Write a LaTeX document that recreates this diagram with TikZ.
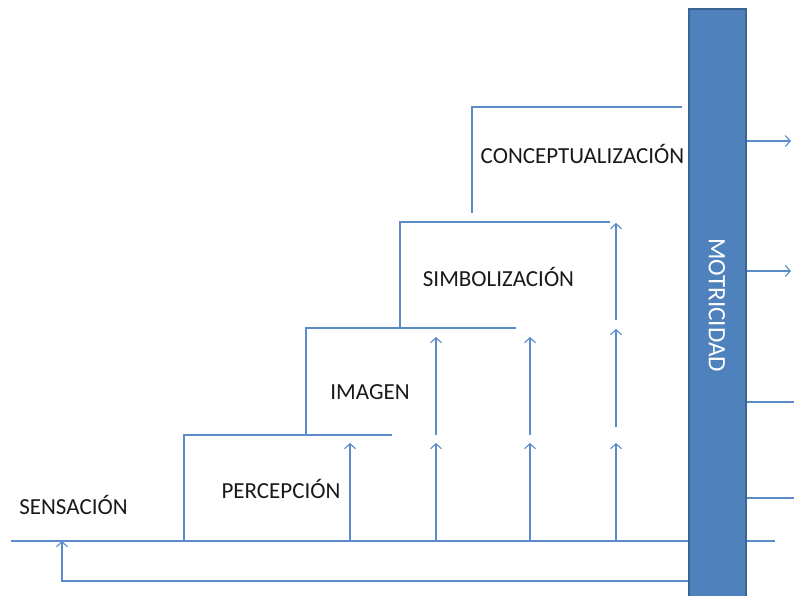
\documentclass[tikz,border=0pt]{standalone}
\usepackage{fontspec}
\setmainfont{Carlito}
\usetikzlibrary{arrows.meta,backgrounds}
\definecolor{lineblue}{HTML}{5B8BC8}
\definecolor{barblue}{HTML}{4F81BD}
\definecolor{bardark}{HTML}{3A6494}
\tikzset{
  flow/.style={draw=lineblue, line width=1.1pt},
  up/.style={flow, -{Straight Barb[length=5pt,width=11pt,line width=1.1pt]}},
  lbl/.style={font=\fontsize{23}{26}\selectfont, text=black!90, inner sep=0pt, anchor=base},
  barbox/.style={draw=bardark, fill=barblue, line width=2pt, text=white,
    font=\fontsize{25}{28}\selectfont, inner sep=0pt, outer sep=0pt,
    minimum width=592pt, minimum height=57pt}
}
\begin{document}
\begin{tikzpicture}[x=1pt, y=-1pt]
  \useasboundingbox (0,0) rectangle (794,596);
  \clip (0,0) rectangle (794,596);

  % vertical motricity bar (drawn on top of the lines passing behind it)
  \node[barbox, rotate=-90] (mot) at (717,305) {MOTRICIDAD};

  \begin{pgfonlayer}{background}
  % outgoing lines on the right of the bar
  \coordinate (o1) at (791,141);
  \coordinate (o2) at (791,271);
  \coordinate (o3) at (794,402);
  \coordinate (o4) at (794,498);
  \draw[up] (mot.north |- o1) -- (o1);
  \draw[up] (mot.north |- o2) -- (o2);
  \draw[flow] (mot.north |- o3) -- (o3);
  \draw[flow] (mot.north |- o4) -- (o4);

  % base line and feedback loop
  \coordinate (bl) at (11,541);
  \coordinate (br) at (775,541);
  \draw[flow] (bl) -- (br);
  \coordinate (fb) at (62,581);
  \coordinate (fbt) at (62,541);
  \draw[up] (mot.south |- fb) -- (fb) -- (fbt);

  % staircase of stages
  \coordinate (p0) at (184,541);  \coordinate (p1) at (392,435);
  \coordinate (i0) at (306,435);  \coordinate (i1) at (516,328);
  \coordinate (s0) at (400,328);  \coordinate (s1) at (610,222);
  \coordinate (c0) at (472,213);  \coordinate (c1) at (682,107);
  \draw[flow] (p0) |- (p1);
  \draw[flow] (i0) |- (i1);
  \draw[flow] (s0) |- (s1);
  \draw[flow] (c0) |- (c1);

  % upward arrows between levels
  \foreach \x in {350,436,530,616} {
    \coordinate (u\x a) at (\x,541);
    \coordinate (u\x b) at (\x,443);
    \draw[up] (u\x a) -- (u\x b);
  }
  \foreach \x in {436,530} {
    \coordinate (v\x a) at (\x,435);
    \coordinate (v\x b) at (\x,337);
    \draw[up] (v\x a) -- (v\x b);
  }
  \coordinate (w1a) at (616,427); \coordinate (w1b) at (616,329);
  \coordinate (w2a) at (616,320); \coordinate (w2b) at (616,223);
  \draw[up] (w1a) -- (w1b);
  \draw[up] (w2a) -- (w2b);
  \end{pgfonlayer}

  % stage labels
  \node[lbl] (sen) at (73.5,514) {SENSACIÓN};
  \node[lbl] (per) at (281,498) {PERCEPCIÓN};
  \node[lbl] (ima) at (370,399) {IMAGEN};
  \node[lbl] (sim) at (498.5,286) {SIMBOLIZACIÓN};
  \node[lbl] (con) at (582.5,164) {CONCEPTUALIZACIÓN};
\end{tikzpicture}
\end{document}
